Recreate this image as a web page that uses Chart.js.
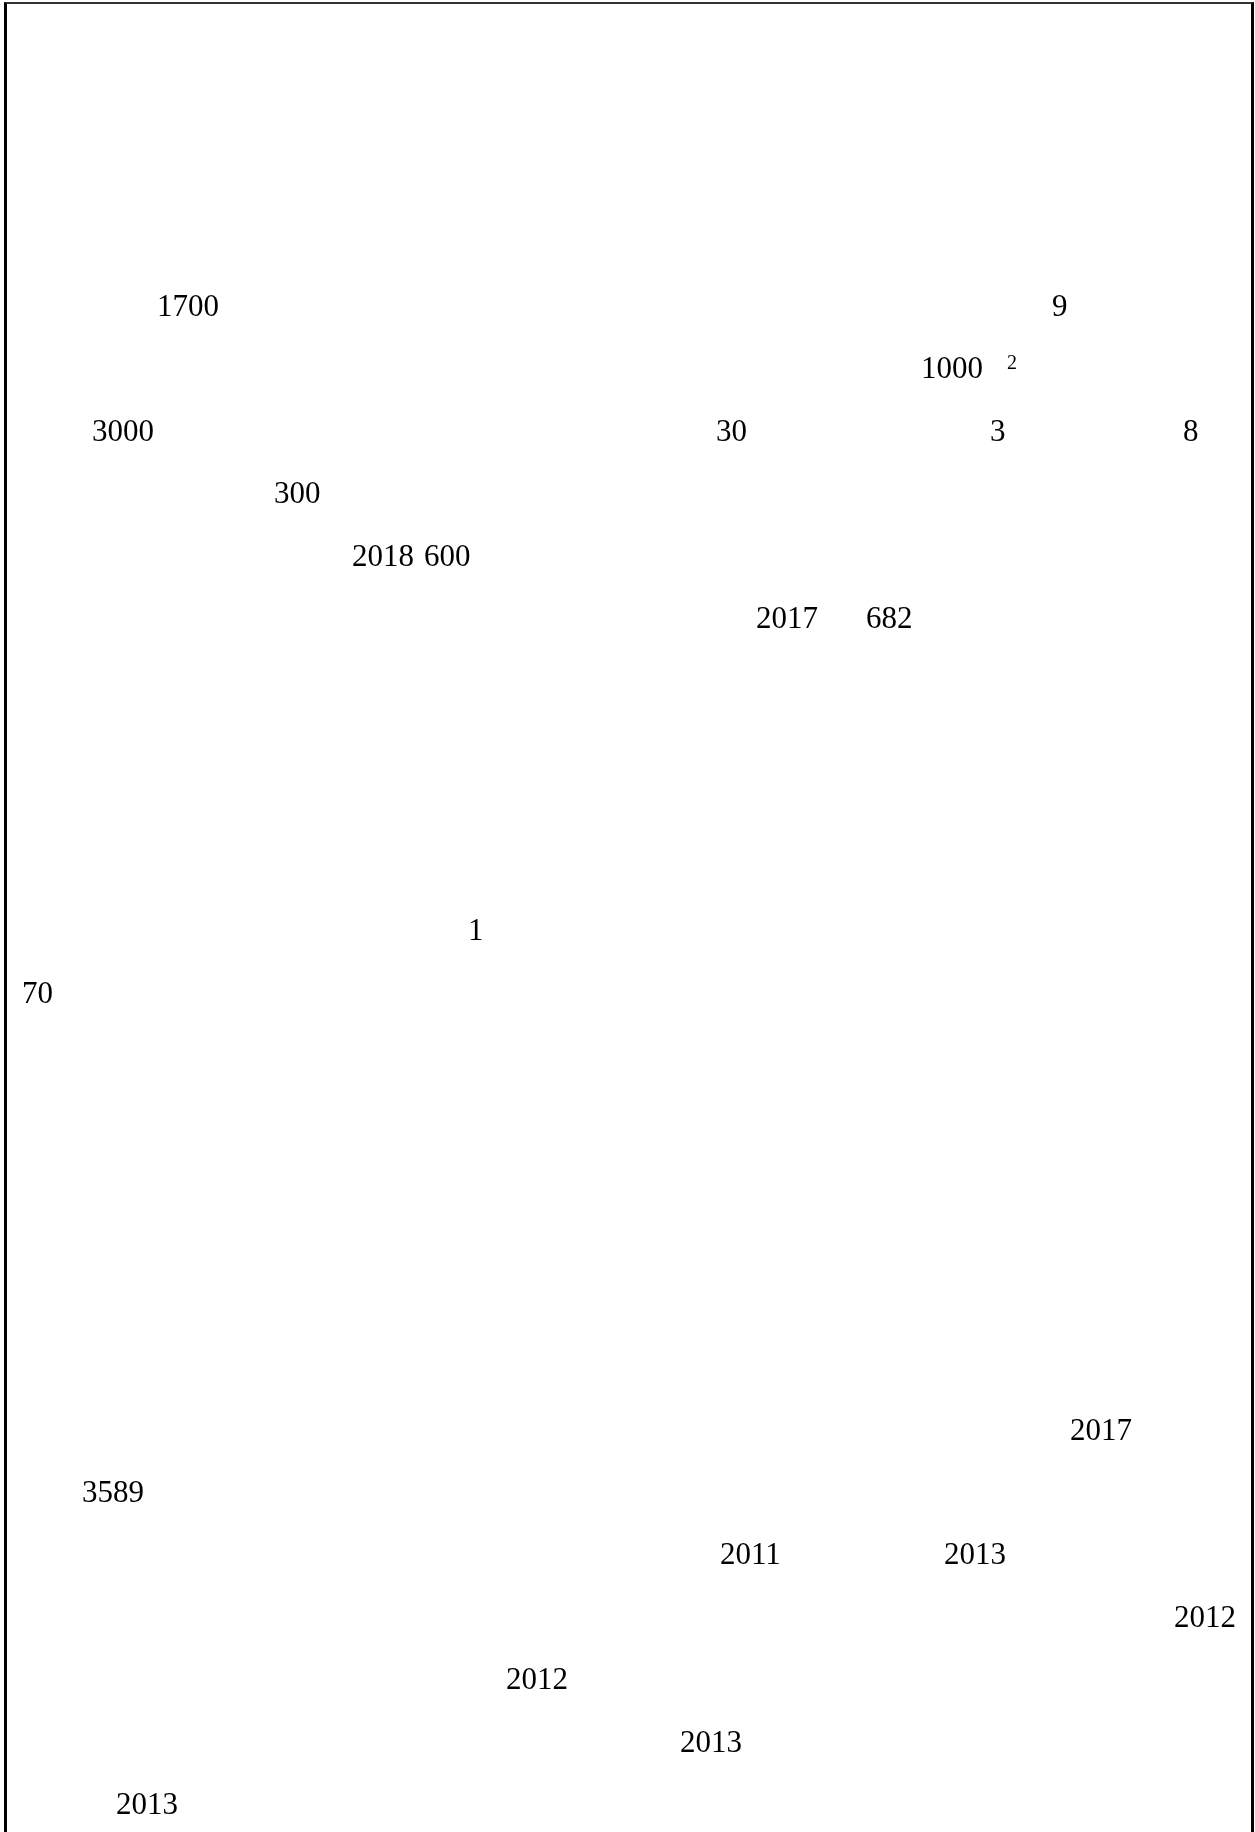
<!DOCTYPE html>
<html>
<head>
<meta charset="utf-8">
<script src="https://cdn.jsdelivr.net/npm/chart.js@4.4.1/dist/chart.umd.min.js"></script>
<style>
  html, body { margin: 0; padding: 0; background: #fff; overflow: hidden; }
  #wrap { position: relative; width: 1255px; height: 1832px; }
  #frame { position: absolute; left: 4px; top: 2px; width: 1244px; height: 1840px;
           border-left: 3px solid #000; border-right: 3px solid #000; border-top: 2px solid #333;
           box-sizing: content-box; pointer-events: none; }
  canvas { position: absolute; left: 0; top: 0; }
</style>
</head>
<body>
<div id="wrap">
  <canvas id="c" width="1255" height="1832"></canvas>
  <div id="frame"></div>
</div>
<script>
// Text items: label, horizontal position (column, px), text line number (row)
const labels  = ['1700','9','1000','3000','30','3','8','300','2018','600','2017','682','1','70',
                 '2017','3589','2011','2013','2012','2012','2013','2013'];
const columns = [157, 1052, 921, 92, 716, 990, 1183, 274, 352, 424, 756, 866, 468, 22,
                 1070, 82, 720, 944, 1174, 506, 680, 116];
const rows    = [0, 0, 1, 2, 2, 2, 2, 3, 4, 4, 5, 5, 10, 11,
                 18, 19, 20, 20, 21, 22, 23, 24];
// Superscripts
const supLabels  = ['2'];
const supColumns = [1007];
const supRows    = [0.85];

const ROW0 = 316, ROWSTEP = 62.42, H = 1832, W = 1255;

const textPlugin = {
  id: 'textMarks',
  afterDatasetsDraw(chart) {
    const ctx = chart.ctx;
    ctx.save();
    ctx.fillStyle = '#000';
    ctx.textAlign = 'left';
    ctx.textBaseline = 'alphabetic';
    chart.data.datasets.forEach((ds, di) => {
      const meta = chart.getDatasetMeta(di);
      ctx.font = ds.fontSize + 'px "Liberation Serif", "Times New Roman", serif';
      meta.data.forEach((pt, i) => {
        ctx.fillText(ds.texts[i], pt.x, pt.y);
      });
    });
    ctx.restore();
  }
};

new Chart(document.getElementById('c'), {
  type: 'scatter',
  data: {
    datasets: [
      { label: 'text', texts: labels, fontSize: 31,
        data: labels.map((l, i) => ({ x: columns[i], y: rows[i] })),
        pointRadius: 0, pointHoverRadius: 0 },
      { label: 'sup', texts: supLabels, fontSize: 20,
        data: supLabels.map((l, i) => ({ x: supColumns[i], y: supRows[i] })),
        pointRadius: 0, pointHoverRadius: 0 }
    ]
  },
  options: {
    responsive: false,
    animation: false,
    devicePixelRatio: 1,
    layout: { padding: 0 },
    plugins: { legend: { display: false }, tooltip: { enabled: false } },
    events: [],
    scales: {
      x: { type: 'linear', display: false, min: 0, max: W },
      y: { type: 'linear', display: false, reverse: true,
           min: -ROW0 / ROWSTEP, max: (H - ROW0) / ROWSTEP }
    }
  },
  plugins: [textPlugin]
});
</script>
</body>
</html>
